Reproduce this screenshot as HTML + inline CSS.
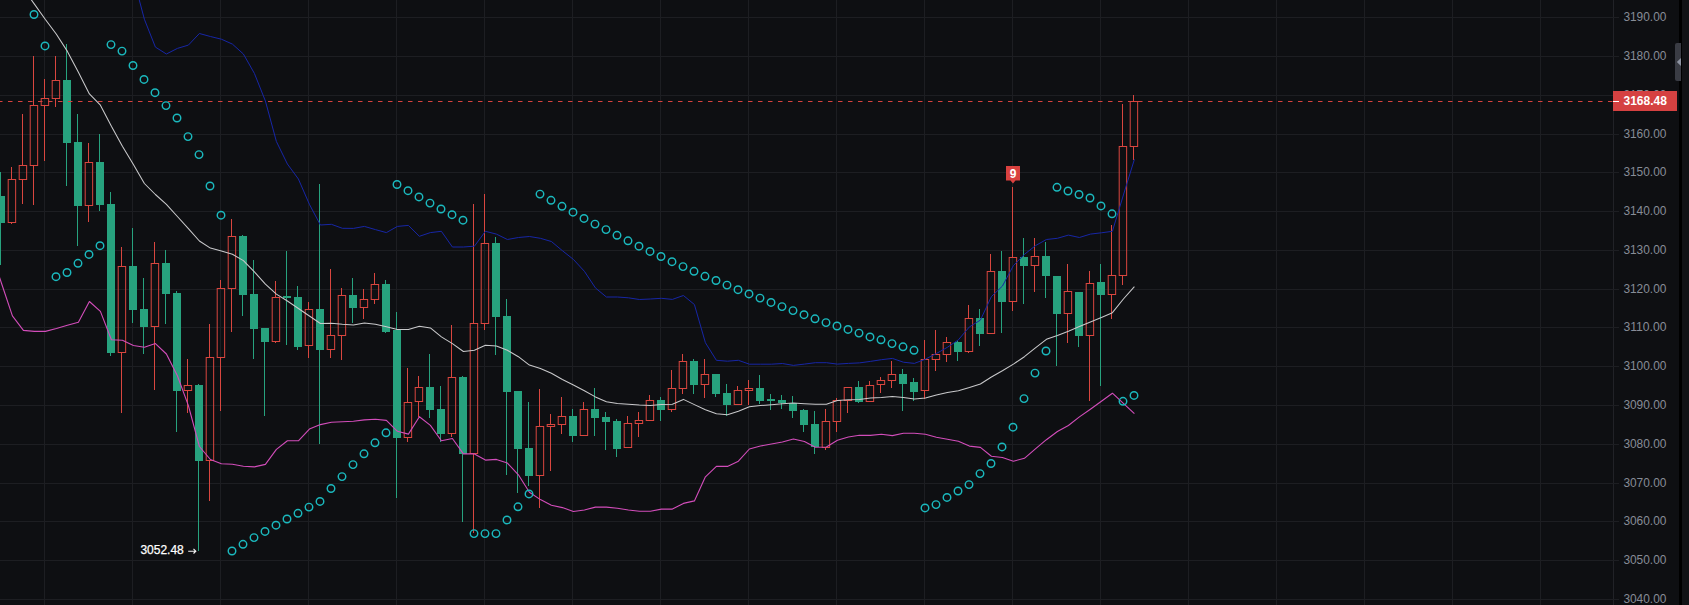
<!DOCTYPE html>
<html><head><meta charset="utf-8"><title>Chart</title>
<style>html,body{margin:0;padding:0;background:#0e0f12;width:1689px;height:605px;overflow:hidden}svg{display:block}</style>
</head><body><svg width="1689" height="605" viewBox="0 0 1689 605"><rect x="0" y="17" width="1619" height="1" fill="#1d1e22"/><rect x="0" y="56" width="1619" height="1" fill="#1d1e22"/><rect x="0" y="95" width="1619" height="1" fill="#1d1e22"/><rect x="0" y="134" width="1619" height="1" fill="#1d1e22"/><rect x="0" y="172" width="1619" height="1" fill="#1d1e22"/><rect x="0" y="211" width="1619" height="1" fill="#1d1e22"/><rect x="0" y="250" width="1619" height="1" fill="#1d1e22"/><rect x="0" y="289" width="1619" height="1" fill="#1d1e22"/><rect x="0" y="327" width="1619" height="1" fill="#1d1e22"/><rect x="0" y="366" width="1619" height="1" fill="#1d1e22"/><rect x="0" y="405" width="1619" height="1" fill="#1d1e22"/><rect x="0" y="444" width="1619" height="1" fill="#1d1e22"/><rect x="0" y="483" width="1619" height="1" fill="#1d1e22"/><rect x="0" y="521" width="1619" height="1" fill="#1d1e22"/><rect x="0" y="560" width="1619" height="1" fill="#1d1e22"/><rect x="0" y="599" width="1619" height="1" fill="#1d1e22"/><rect x="44" y="0" width="1" height="605" fill="#1d1e22"/><rect x="132" y="0" width="1" height="605" fill="#1d1e22"/><rect x="220" y="0" width="1" height="605" fill="#1d1e22"/><rect x="308" y="0" width="1" height="605" fill="#1d1e22"/><rect x="396" y="0" width="1" height="605" fill="#1d1e22"/><rect x="484" y="0" width="1" height="605" fill="#1d1e22"/><rect x="572" y="0" width="1" height="605" fill="#1d1e22"/><rect x="660" y="0" width="1" height="605" fill="#1d1e22"/><rect x="748" y="0" width="1" height="605" fill="#1d1e22"/><rect x="836" y="0" width="1" height="605" fill="#1d1e22"/><rect x="924" y="0" width="1" height="605" fill="#1d1e22"/><rect x="1012" y="0" width="1" height="605" fill="#1d1e22"/><rect x="1100" y="0" width="1" height="605" fill="#1d1e22"/><rect x="1188" y="0" width="1" height="605" fill="#1d1e22"/><rect x="1276" y="0" width="1" height="605" fill="#1d1e22"/><rect x="1364" y="0" width="1" height="605" fill="#1d1e22"/><rect x="1452" y="0" width="1" height="605" fill="#1d1e22"/><rect x="1540" y="0" width="1" height="605" fill="#1d1e22"/><g shape-rendering="crispEdges"><rect x="0" y="172" width="1" height="93" fill="#27a27e"/><rect x="-3" y="196" width="8" height="27" fill="#27a27e"/><rect x="11" y="167" width="1" height="12" fill="#d9463f"/><rect x="11" y="223" width="1" height="1" fill="#d9463f"/><rect x="8" y="179" width="8" height="1" fill="#d9463f"/><rect x="8" y="222" width="8" height="1" fill="#d9463f"/><rect x="22" y="114" width="1" height="51" fill="#d9463f"/><rect x="22" y="180" width="1" height="24" fill="#d9463f"/><rect x="19" y="165" width="8" height="1" fill="#d9463f"/><rect x="19" y="179" width="8" height="1" fill="#d9463f"/><rect x="33" y="56" width="1" height="49" fill="#d9463f"/><rect x="33" y="166" width="1" height="39" fill="#d9463f"/><rect x="30" y="105" width="8" height="1" fill="#d9463f"/><rect x="30" y="165" width="8" height="1" fill="#d9463f"/><rect x="44" y="79" width="1" height="19" fill="#d9463f"/><rect x="44" y="106" width="1" height="55" fill="#d9463f"/><rect x="41" y="98" width="8" height="1" fill="#d9463f"/><rect x="41" y="105" width="8" height="1" fill="#d9463f"/><rect x="55" y="56" width="1" height="24" fill="#d9463f"/><rect x="55" y="99" width="1" height="8" fill="#d9463f"/><rect x="52" y="80" width="8" height="1" fill="#d9463f"/><rect x="52" y="98" width="8" height="1" fill="#d9463f"/><rect x="66" y="44" width="1" height="142" fill="#27a27e"/><rect x="63" y="80" width="8" height="63" fill="#27a27e"/><rect x="77" y="114" width="1" height="132" fill="#27a27e"/><rect x="74" y="142" width="8" height="64" fill="#27a27e"/><rect x="88" y="143" width="1" height="19" fill="#d9463f"/><rect x="88" y="206" width="1" height="16" fill="#d9463f"/><rect x="85" y="162" width="8" height="1" fill="#d9463f"/><rect x="85" y="205" width="8" height="1" fill="#d9463f"/><rect x="99" y="134" width="1" height="77" fill="#27a27e"/><rect x="96" y="162" width="8" height="43" fill="#27a27e"/><rect x="110" y="192" width="1" height="164" fill="#27a27e"/><rect x="107" y="204" width="8" height="149" fill="#27a27e"/><rect x="121" y="247" width="1" height="19" fill="#d9463f"/><rect x="121" y="353" width="1" height="60" fill="#d9463f"/><rect x="118" y="266" width="8" height="1" fill="#d9463f"/><rect x="118" y="352" width="8" height="1" fill="#d9463f"/><rect x="132" y="228" width="1" height="95" fill="#27a27e"/><rect x="129" y="266" width="8" height="44" fill="#27a27e"/><rect x="143" y="278" width="1" height="76" fill="#27a27e"/><rect x="140" y="309" width="8" height="18" fill="#27a27e"/><rect x="154" y="242" width="1" height="21" fill="#d9463f"/><rect x="154" y="327" width="1" height="63" fill="#d9463f"/><rect x="151" y="263" width="8" height="1" fill="#d9463f"/><rect x="151" y="326" width="8" height="1" fill="#d9463f"/><rect x="165" y="250" width="1" height="74" fill="#27a27e"/><rect x="162" y="263" width="8" height="31" fill="#27a27e"/><rect x="176" y="291" width="1" height="141" fill="#27a27e"/><rect x="173" y="293" width="8" height="98" fill="#27a27e"/><rect x="187" y="359" width="1" height="26" fill="#d9463f"/><rect x="187" y="391" width="1" height="22" fill="#d9463f"/><rect x="184" y="385" width="8" height="1" fill="#d9463f"/><rect x="184" y="390" width="8" height="1" fill="#d9463f"/><rect x="198" y="384" width="1" height="167" fill="#27a27e"/><rect x="195" y="385" width="8" height="76" fill="#27a27e"/><rect x="209" y="324" width="1" height="33" fill="#d9463f"/><rect x="209" y="461" width="1" height="40" fill="#d9463f"/><rect x="206" y="357" width="8" height="1" fill="#d9463f"/><rect x="206" y="460" width="8" height="1" fill="#d9463f"/><rect x="220" y="280" width="1" height="8" fill="#d9463f"/><rect x="220" y="358" width="1" height="53" fill="#d9463f"/><rect x="217" y="288" width="8" height="1" fill="#d9463f"/><rect x="217" y="357" width="8" height="1" fill="#d9463f"/><rect x="231" y="219" width="1" height="17" fill="#d9463f"/><rect x="231" y="289" width="1" height="43" fill="#d9463f"/><rect x="228" y="236" width="8" height="1" fill="#d9463f"/><rect x="228" y="288" width="8" height="1" fill="#d9463f"/><rect x="242" y="235" width="1" height="81" fill="#27a27e"/><rect x="239" y="236" width="8" height="59" fill="#27a27e"/><rect x="253" y="260" width="1" height="99" fill="#27a27e"/><rect x="250" y="294" width="8" height="35" fill="#27a27e"/><rect x="264" y="328" width="1" height="88" fill="#27a27e"/><rect x="261" y="328" width="8" height="14" fill="#27a27e"/><rect x="275" y="281" width="1" height="16" fill="#d9463f"/><rect x="275" y="342" width="1" height="1" fill="#d9463f"/><rect x="272" y="297" width="8" height="1" fill="#d9463f"/><rect x="272" y="341" width="8" height="1" fill="#d9463f"/><rect x="286" y="251" width="1" height="94" fill="#27a27e"/><rect x="283" y="296" width="8" height="2" fill="#27a27e"/><rect x="297" y="286" width="1" height="64" fill="#27a27e"/><rect x="294" y="297" width="8" height="50" fill="#27a27e"/><rect x="308" y="302" width="1" height="7" fill="#d9463f"/><rect x="308" y="346" width="1" height="12" fill="#d9463f"/><rect x="305" y="309" width="8" height="1" fill="#d9463f"/><rect x="305" y="345" width="8" height="1" fill="#d9463f"/><rect x="319" y="184" width="1" height="260" fill="#27a27e"/><rect x="316" y="309" width="8" height="41" fill="#27a27e"/><rect x="330" y="269" width="1" height="66" fill="#d9463f"/><rect x="330" y="350" width="1" height="8" fill="#d9463f"/><rect x="327" y="335" width="8" height="1" fill="#d9463f"/><rect x="327" y="349" width="8" height="1" fill="#d9463f"/><rect x="341" y="288" width="1" height="7" fill="#d9463f"/><rect x="341" y="336" width="1" height="24" fill="#d9463f"/><rect x="338" y="295" width="8" height="1" fill="#d9463f"/><rect x="338" y="335" width="8" height="1" fill="#d9463f"/><rect x="352" y="278" width="1" height="45" fill="#27a27e"/><rect x="349" y="295" width="8" height="13" fill="#27a27e"/><rect x="363" y="289" width="1" height="10" fill="#d9463f"/><rect x="363" y="308" width="1" height="11" fill="#d9463f"/><rect x="360" y="299" width="8" height="1" fill="#d9463f"/><rect x="360" y="307" width="8" height="1" fill="#d9463f"/><rect x="374" y="273" width="1" height="11" fill="#d9463f"/><rect x="374" y="300" width="1" height="4" fill="#d9463f"/><rect x="371" y="284" width="8" height="1" fill="#d9463f"/><rect x="371" y="299" width="8" height="1" fill="#d9463f"/><rect x="385" y="280" width="1" height="53" fill="#27a27e"/><rect x="382" y="284" width="8" height="48" fill="#27a27e"/><rect x="396" y="312" width="1" height="186" fill="#27a27e"/><rect x="393" y="330" width="8" height="108" fill="#27a27e"/><rect x="407" y="368" width="1" height="34" fill="#d9463f"/><rect x="407" y="438" width="1" height="4" fill="#d9463f"/><rect x="404" y="402" width="8" height="1" fill="#d9463f"/><rect x="404" y="437" width="8" height="1" fill="#d9463f"/><rect x="418" y="376" width="1" height="11" fill="#d9463f"/><rect x="418" y="402" width="1" height="15" fill="#d9463f"/><rect x="415" y="387" width="8" height="1" fill="#d9463f"/><rect x="415" y="401" width="8" height="1" fill="#d9463f"/><rect x="429" y="354" width="1" height="64" fill="#27a27e"/><rect x="426" y="387" width="8" height="23" fill="#27a27e"/><rect x="440" y="386" width="1" height="56" fill="#27a27e"/><rect x="437" y="409" width="8" height="25" fill="#27a27e"/><rect x="451" y="325" width="1" height="52" fill="#d9463f"/><rect x="451" y="434" width="1" height="3" fill="#d9463f"/><rect x="448" y="377" width="8" height="1" fill="#d9463f"/><rect x="448" y="433" width="8" height="1" fill="#d9463f"/><rect x="462" y="376" width="1" height="146" fill="#27a27e"/><rect x="459" y="377" width="8" height="77" fill="#27a27e"/><rect x="473" y="204" width="1" height="119" fill="#d9463f"/><rect x="473" y="454" width="1" height="79" fill="#d9463f"/><rect x="470" y="323" width="8" height="1" fill="#d9463f"/><rect x="470" y="453" width="8" height="1" fill="#d9463f"/><rect x="484" y="194" width="1" height="49" fill="#d9463f"/><rect x="484" y="324" width="1" height="6" fill="#d9463f"/><rect x="481" y="243" width="8" height="1" fill="#d9463f"/><rect x="481" y="323" width="8" height="1" fill="#d9463f"/><rect x="495" y="237" width="1" height="118" fill="#27a27e"/><rect x="492" y="243" width="8" height="74" fill="#27a27e"/><rect x="506" y="299" width="1" height="176" fill="#27a27e"/><rect x="503" y="316" width="8" height="76" fill="#27a27e"/><rect x="517" y="391" width="1" height="102" fill="#27a27e"/><rect x="514" y="391" width="8" height="58" fill="#27a27e"/><rect x="528" y="402" width="1" height="84" fill="#27a27e"/><rect x="525" y="448" width="8" height="28" fill="#27a27e"/><rect x="539" y="389" width="1" height="37" fill="#d9463f"/><rect x="539" y="476" width="1" height="32" fill="#d9463f"/><rect x="536" y="426" width="8" height="1" fill="#d9463f"/><rect x="536" y="475" width="8" height="1" fill="#d9463f"/><rect x="550" y="414" width="1" height="10" fill="#d9463f"/><rect x="550" y="427" width="1" height="44" fill="#d9463f"/><rect x="547" y="424" width="8" height="1" fill="#d9463f"/><rect x="547" y="426" width="8" height="1" fill="#d9463f"/><rect x="561" y="397" width="1" height="19" fill="#d9463f"/><rect x="561" y="425" width="1" height="9" fill="#d9463f"/><rect x="558" y="416" width="8" height="1" fill="#d9463f"/><rect x="558" y="424" width="8" height="1" fill="#d9463f"/><rect x="572" y="409" width="1" height="33" fill="#27a27e"/><rect x="569" y="416" width="8" height="20" fill="#27a27e"/><rect x="583" y="402" width="1" height="7" fill="#d9463f"/><rect x="580" y="409" width="8" height="1" fill="#d9463f"/><rect x="580" y="435" width="8" height="1" fill="#d9463f"/><rect x="594" y="388" width="1" height="48" fill="#27a27e"/><rect x="591" y="409" width="8" height="9" fill="#27a27e"/><rect x="605" y="412" width="1" height="38" fill="#27a27e"/><rect x="602" y="417" width="8" height="5" fill="#27a27e"/><rect x="616" y="419" width="1" height="38" fill="#27a27e"/><rect x="613" y="421" width="8" height="28" fill="#27a27e"/><rect x="627" y="416" width="1" height="7" fill="#d9463f"/><rect x="624" y="423" width="8" height="1" fill="#d9463f"/><rect x="624" y="447" width="8" height="1" fill="#d9463f"/><rect x="638" y="412" width="1" height="8" fill="#d9463f"/><rect x="638" y="424" width="1" height="13" fill="#d9463f"/><rect x="635" y="420" width="8" height="1" fill="#d9463f"/><rect x="635" y="423" width="8" height="1" fill="#d9463f"/><rect x="649" y="395" width="1" height="5" fill="#d9463f"/><rect x="646" y="400" width="8" height="1" fill="#d9463f"/><rect x="646" y="420" width="8" height="1" fill="#d9463f"/><rect x="660" y="397" width="1" height="24" fill="#27a27e"/><rect x="657" y="400" width="8" height="10" fill="#27a27e"/><rect x="671" y="370" width="1" height="18" fill="#d9463f"/><rect x="671" y="410" width="1" height="2" fill="#d9463f"/><rect x="668" y="388" width="8" height="1" fill="#d9463f"/><rect x="668" y="409" width="8" height="1" fill="#d9463f"/><rect x="682" y="354" width="1" height="7" fill="#d9463f"/><rect x="682" y="389" width="1" height="5" fill="#d9463f"/><rect x="679" y="361" width="8" height="1" fill="#d9463f"/><rect x="679" y="388" width="8" height="1" fill="#d9463f"/><rect x="693" y="359" width="1" height="35" fill="#27a27e"/><rect x="690" y="361" width="8" height="24" fill="#27a27e"/><rect x="704" y="359" width="1" height="15" fill="#d9463f"/><rect x="704" y="385" width="1" height="13" fill="#d9463f"/><rect x="701" y="374" width="8" height="1" fill="#d9463f"/><rect x="701" y="384" width="8" height="1" fill="#d9463f"/><rect x="715" y="374" width="1" height="23" fill="#27a27e"/><rect x="712" y="374" width="8" height="20" fill="#27a27e"/><rect x="726" y="384" width="1" height="32" fill="#27a27e"/><rect x="723" y="393" width="8" height="12" fill="#27a27e"/><rect x="737" y="386" width="1" height="4" fill="#d9463f"/><rect x="734" y="390" width="8" height="1" fill="#d9463f"/><rect x="734" y="404" width="8" height="1" fill="#d9463f"/><rect x="748" y="380" width="1" height="8" fill="#d9463f"/><rect x="748" y="391" width="1" height="14" fill="#d9463f"/><rect x="745" y="388" width="8" height="1" fill="#d9463f"/><rect x="745" y="390" width="8" height="1" fill="#d9463f"/><rect x="759" y="375" width="1" height="29" fill="#27a27e"/><rect x="756" y="388" width="8" height="13" fill="#27a27e"/><rect x="770" y="394" width="1" height="16" fill="#27a27e"/><rect x="767" y="399" width="8" height="2" fill="#27a27e"/><rect x="781" y="395" width="1" height="14" fill="#27a27e"/><rect x="778" y="400" width="8" height="3" fill="#27a27e"/><rect x="792" y="396" width="1" height="22" fill="#27a27e"/><rect x="789" y="403" width="8" height="8" fill="#27a27e"/><rect x="803" y="409" width="1" height="23" fill="#27a27e"/><rect x="800" y="410" width="8" height="15" fill="#27a27e"/><rect x="814" y="411" width="1" height="43" fill="#27a27e"/><rect x="811" y="424" width="8" height="23" fill="#27a27e"/><rect x="825" y="409" width="1" height="12" fill="#d9463f"/><rect x="825" y="448" width="1" height="2" fill="#d9463f"/><rect x="822" y="421" width="8" height="1" fill="#d9463f"/><rect x="822" y="447" width="8" height="1" fill="#d9463f"/><rect x="836" y="398" width="1" height="2" fill="#d9463f"/><rect x="836" y="422" width="1" height="10" fill="#d9463f"/><rect x="833" y="400" width="8" height="1" fill="#d9463f"/><rect x="833" y="421" width="8" height="1" fill="#d9463f"/><rect x="847" y="401" width="1" height="12" fill="#d9463f"/><rect x="844" y="387" width="8" height="1" fill="#d9463f"/><rect x="844" y="400" width="8" height="1" fill="#d9463f"/><rect x="858" y="381" width="1" height="22" fill="#27a27e"/><rect x="855" y="387" width="8" height="15" fill="#27a27e"/><rect x="869" y="381" width="1" height="4" fill="#d9463f"/><rect x="866" y="385" width="8" height="1" fill="#d9463f"/><rect x="866" y="401" width="8" height="1" fill="#d9463f"/><rect x="880" y="377" width="1" height="3" fill="#d9463f"/><rect x="880" y="385" width="1" height="8" fill="#d9463f"/><rect x="877" y="380" width="8" height="1" fill="#d9463f"/><rect x="877" y="384" width="8" height="1" fill="#d9463f"/><rect x="891" y="361" width="1" height="13" fill="#d9463f"/><rect x="891" y="381" width="1" height="7" fill="#d9463f"/><rect x="888" y="374" width="8" height="1" fill="#d9463f"/><rect x="888" y="380" width="8" height="1" fill="#d9463f"/><rect x="902" y="369" width="1" height="42" fill="#27a27e"/><rect x="899" y="374" width="8" height="10" fill="#27a27e"/><rect x="913" y="378" width="1" height="23" fill="#27a27e"/><rect x="910" y="382" width="8" height="10" fill="#27a27e"/><rect x="924" y="340" width="1" height="19" fill="#d9463f"/><rect x="924" y="391" width="1" height="8" fill="#d9463f"/><rect x="921" y="359" width="8" height="1" fill="#d9463f"/><rect x="921" y="390" width="8" height="1" fill="#d9463f"/><rect x="935" y="330" width="1" height="24" fill="#d9463f"/><rect x="935" y="360" width="1" height="11" fill="#d9463f"/><rect x="932" y="354" width="8" height="1" fill="#d9463f"/><rect x="932" y="359" width="8" height="1" fill="#d9463f"/><rect x="946" y="337" width="1" height="5" fill="#d9463f"/><rect x="946" y="355" width="1" height="7" fill="#d9463f"/><rect x="943" y="342" width="8" height="1" fill="#d9463f"/><rect x="943" y="354" width="8" height="1" fill="#d9463f"/><rect x="957" y="341" width="1" height="20" fill="#27a27e"/><rect x="954" y="342" width="8" height="10" fill="#27a27e"/><rect x="968" y="305" width="1" height="13" fill="#d9463f"/><rect x="968" y="352" width="1" height="1" fill="#d9463f"/><rect x="965" y="318" width="8" height="1" fill="#d9463f"/><rect x="965" y="351" width="8" height="1" fill="#d9463f"/><rect x="979" y="309" width="1" height="37" fill="#27a27e"/><rect x="976" y="318" width="8" height="16" fill="#27a27e"/><rect x="990" y="254" width="1" height="17" fill="#d9463f"/><rect x="987" y="271" width="8" height="1" fill="#d9463f"/><rect x="987" y="333" width="8" height="1" fill="#d9463f"/><rect x="1001" y="251" width="1" height="82" fill="#27a27e"/><rect x="998" y="271" width="8" height="31" fill="#27a27e"/><rect x="1012" y="187" width="1" height="70" fill="#d9463f"/><rect x="1012" y="302" width="1" height="9" fill="#d9463f"/><rect x="1009" y="257" width="8" height="1" fill="#d9463f"/><rect x="1009" y="301" width="8" height="1" fill="#d9463f"/><rect x="1023" y="238" width="1" height="66" fill="#27a27e"/><rect x="1020" y="257" width="8" height="9" fill="#27a27e"/><rect x="1034" y="238" width="1" height="18" fill="#d9463f"/><rect x="1034" y="266" width="1" height="26" fill="#d9463f"/><rect x="1031" y="256" width="8" height="1" fill="#d9463f"/><rect x="1031" y="265" width="8" height="1" fill="#d9463f"/><rect x="1045" y="242" width="1" height="56" fill="#27a27e"/><rect x="1042" y="256" width="8" height="20" fill="#27a27e"/><rect x="1056" y="276" width="1" height="90" fill="#27a27e"/><rect x="1053" y="276" width="8" height="38" fill="#27a27e"/><rect x="1067" y="264" width="1" height="27" fill="#d9463f"/><rect x="1067" y="314" width="1" height="29" fill="#d9463f"/><rect x="1064" y="291" width="8" height="1" fill="#d9463f"/><rect x="1064" y="313" width="8" height="1" fill="#d9463f"/><rect x="1078" y="292" width="1" height="55" fill="#27a27e"/><rect x="1075" y="292" width="8" height="44" fill="#27a27e"/><rect x="1089" y="271" width="1" height="12" fill="#d9463f"/><rect x="1089" y="336" width="1" height="65" fill="#d9463f"/><rect x="1086" y="283" width="8" height="1" fill="#d9463f"/><rect x="1086" y="335" width="8" height="1" fill="#d9463f"/><rect x="1100" y="264" width="1" height="122" fill="#27a27e"/><rect x="1097" y="282" width="8" height="13" fill="#27a27e"/><rect x="1111" y="225" width="1" height="50" fill="#d9463f"/><rect x="1111" y="295" width="1" height="24" fill="#d9463f"/><rect x="1108" y="275" width="8" height="1" fill="#d9463f"/><rect x="1108" y="294" width="8" height="1" fill="#d9463f"/><rect x="1122" y="104" width="1" height="42" fill="#d9463f"/><rect x="1122" y="276" width="1" height="9" fill="#d9463f"/><rect x="1119" y="146" width="8" height="1" fill="#d9463f"/><rect x="1119" y="275" width="8" height="1" fill="#d9463f"/><rect x="1133" y="95" width="1" height="6" fill="#d9463f"/><rect x="1133" y="147" width="1" height="13" fill="#d9463f"/><rect x="1130" y="101" width="8" height="1" fill="#d9463f"/><rect x="1130" y="146" width="8" height="1" fill="#d9463f"/></g><g><rect x="7.7" y="179" width="1" height="44" fill="#d9463f"/><rect x="15.15" y="179" width="1" height="44" fill="#d9463f"/><rect x="18.7" y="165" width="1" height="15" fill="#d9463f"/><rect x="26.15" y="165" width="1" height="15" fill="#d9463f"/><rect x="29.7" y="105" width="1" height="61" fill="#d9463f"/><rect x="37.15" y="105" width="1" height="61" fill="#d9463f"/><rect x="40.7" y="98" width="1" height="8" fill="#d9463f"/><rect x="48.15" y="98" width="1" height="8" fill="#d9463f"/><rect x="51.7" y="80" width="1" height="19" fill="#d9463f"/><rect x="59.15" y="80" width="1" height="19" fill="#d9463f"/><rect x="84.7" y="162" width="1" height="44" fill="#d9463f"/><rect x="92.15" y="162" width="1" height="44" fill="#d9463f"/><rect x="117.7" y="266" width="1" height="87" fill="#d9463f"/><rect x="125.15" y="266" width="1" height="87" fill="#d9463f"/><rect x="150.7" y="263" width="1" height="64" fill="#d9463f"/><rect x="158.15" y="263" width="1" height="64" fill="#d9463f"/><rect x="183.7" y="385" width="1" height="6" fill="#d9463f"/><rect x="191.15" y="385" width="1" height="6" fill="#d9463f"/><rect x="205.7" y="357" width="1" height="104" fill="#d9463f"/><rect x="213.15" y="357" width="1" height="104" fill="#d9463f"/><rect x="216.7" y="288" width="1" height="70" fill="#d9463f"/><rect x="224.15" y="288" width="1" height="70" fill="#d9463f"/><rect x="227.7" y="236" width="1" height="53" fill="#d9463f"/><rect x="235.15" y="236" width="1" height="53" fill="#d9463f"/><rect x="271.7" y="297" width="1" height="45" fill="#d9463f"/><rect x="279.15" y="297" width="1" height="45" fill="#d9463f"/><rect x="304.7" y="309" width="1" height="37" fill="#d9463f"/><rect x="312.15" y="309" width="1" height="37" fill="#d9463f"/><rect x="326.7" y="335" width="1" height="15" fill="#d9463f"/><rect x="334.15" y="335" width="1" height="15" fill="#d9463f"/><rect x="337.7" y="295" width="1" height="41" fill="#d9463f"/><rect x="345.15" y="295" width="1" height="41" fill="#d9463f"/><rect x="359.7" y="299" width="1" height="9" fill="#d9463f"/><rect x="367.15" y="299" width="1" height="9" fill="#d9463f"/><rect x="370.7" y="284" width="1" height="16" fill="#d9463f"/><rect x="378.15" y="284" width="1" height="16" fill="#d9463f"/><rect x="403.7" y="402" width="1" height="36" fill="#d9463f"/><rect x="411.15" y="402" width="1" height="36" fill="#d9463f"/><rect x="414.7" y="387" width="1" height="15" fill="#d9463f"/><rect x="422.15" y="387" width="1" height="15" fill="#d9463f"/><rect x="447.7" y="377" width="1" height="57" fill="#d9463f"/><rect x="455.15" y="377" width="1" height="57" fill="#d9463f"/><rect x="469.7" y="323" width="1" height="131" fill="#d9463f"/><rect x="477.15" y="323" width="1" height="131" fill="#d9463f"/><rect x="480.7" y="243" width="1" height="81" fill="#d9463f"/><rect x="488.15" y="243" width="1" height="81" fill="#d9463f"/><rect x="535.7" y="426" width="1" height="50" fill="#d9463f"/><rect x="543.15" y="426" width="1" height="50" fill="#d9463f"/><rect x="546.7" y="424" width="1" height="3" fill="#d9463f"/><rect x="554.15" y="424" width="1" height="3" fill="#d9463f"/><rect x="557.7" y="416" width="1" height="9" fill="#d9463f"/><rect x="565.15" y="416" width="1" height="9" fill="#d9463f"/><rect x="579.7" y="409" width="1" height="27" fill="#d9463f"/><rect x="587.15" y="409" width="1" height="27" fill="#d9463f"/><rect x="623.7" y="423" width="1" height="25" fill="#d9463f"/><rect x="631.15" y="423" width="1" height="25" fill="#d9463f"/><rect x="634.7" y="420" width="1" height="4" fill="#d9463f"/><rect x="642.15" y="420" width="1" height="4" fill="#d9463f"/><rect x="645.7" y="400" width="1" height="21" fill="#d9463f"/><rect x="653.15" y="400" width="1" height="21" fill="#d9463f"/><rect x="667.7" y="388" width="1" height="22" fill="#d9463f"/><rect x="675.15" y="388" width="1" height="22" fill="#d9463f"/><rect x="678.7" y="361" width="1" height="28" fill="#d9463f"/><rect x="686.15" y="361" width="1" height="28" fill="#d9463f"/><rect x="700.7" y="374" width="1" height="11" fill="#d9463f"/><rect x="708.15" y="374" width="1" height="11" fill="#d9463f"/><rect x="733.7" y="390" width="1" height="15" fill="#d9463f"/><rect x="741.15" y="390" width="1" height="15" fill="#d9463f"/><rect x="744.7" y="388" width="1" height="3" fill="#d9463f"/><rect x="752.15" y="388" width="1" height="3" fill="#d9463f"/><rect x="821.7" y="421" width="1" height="27" fill="#d9463f"/><rect x="829.15" y="421" width="1" height="27" fill="#d9463f"/><rect x="832.7" y="400" width="1" height="22" fill="#d9463f"/><rect x="840.15" y="400" width="1" height="22" fill="#d9463f"/><rect x="843.7" y="387" width="1" height="14" fill="#d9463f"/><rect x="851.15" y="387" width="1" height="14" fill="#d9463f"/><rect x="865.7" y="385" width="1" height="17" fill="#d9463f"/><rect x="873.15" y="385" width="1" height="17" fill="#d9463f"/><rect x="876.7" y="380" width="1" height="5" fill="#d9463f"/><rect x="884.15" y="380" width="1" height="5" fill="#d9463f"/><rect x="887.7" y="374" width="1" height="7" fill="#d9463f"/><rect x="895.15" y="374" width="1" height="7" fill="#d9463f"/><rect x="920.7" y="359" width="1" height="32" fill="#d9463f"/><rect x="928.15" y="359" width="1" height="32" fill="#d9463f"/><rect x="931.7" y="354" width="1" height="6" fill="#d9463f"/><rect x="939.15" y="354" width="1" height="6" fill="#d9463f"/><rect x="942.7" y="342" width="1" height="13" fill="#d9463f"/><rect x="950.15" y="342" width="1" height="13" fill="#d9463f"/><rect x="964.7" y="318" width="1" height="34" fill="#d9463f"/><rect x="972.15" y="318" width="1" height="34" fill="#d9463f"/><rect x="986.7" y="271" width="1" height="63" fill="#d9463f"/><rect x="994.15" y="271" width="1" height="63" fill="#d9463f"/><rect x="1008.7" y="257" width="1" height="45" fill="#d9463f"/><rect x="1016.15" y="257" width="1" height="45" fill="#d9463f"/><rect x="1030.7" y="256" width="1" height="10" fill="#d9463f"/><rect x="1038.15" y="256" width="1" height="10" fill="#d9463f"/><rect x="1063.7" y="291" width="1" height="23" fill="#d9463f"/><rect x="1071.15" y="291" width="1" height="23" fill="#d9463f"/><rect x="1085.7" y="283" width="1" height="53" fill="#d9463f"/><rect x="1093.15" y="283" width="1" height="53" fill="#d9463f"/><rect x="1107.7" y="275" width="1" height="20" fill="#d9463f"/><rect x="1115.15" y="275" width="1" height="20" fill="#d9463f"/><rect x="1118.7" y="146" width="1" height="130" fill="#d9463f"/><rect x="1126.15" y="146" width="1" height="130" fill="#d9463f"/><rect x="1129.7" y="101" width="1" height="46" fill="#d9463f"/><rect x="1137.15" y="101" width="1" height="46" fill="#d9463f"/></g><polyline points="133.4,-22.0 144.4,19.3 155.4,47.1 166.4,54.0 177.4,48.4 188.4,45.1 199.4,33.5 210.4,36.5 221.4,39.2 232.4,44.1 243.4,54.0 254.4,73.4 265.4,101.0 276.4,141.5 287.4,164.0 298.4,179.0 309.4,204.3 320.4,225.0 331.4,224.3 342.4,228.3 353.4,228.4 364.4,226.4 375.4,229.6 386.4,232.6 397.4,226.4 408.4,225.4 419.4,236.3 430.4,232.6 441.4,231.3 452.4,247.0 463.4,247.0 474.4,246.2 485.4,231.3 496.4,234.1 507.4,239.5 518.4,237.5 529.4,236.5 540.4,238.3 551.4,241.5 562.4,250.7 573.4,259.4 584.4,271.3 595.4,287.9 606.4,297.0 617.4,297.0 628.4,297.8 639.4,299.5 650.4,299.0 661.4,298.3 672.4,299.4 683.4,295.5 694.4,304.5 705.4,342.7 716.4,360.3 727.4,361.2 738.4,360.3 749.4,364.2 760.4,364.2 771.4,364.2 782.4,363.5 793.4,365.4 804.4,364.1 815.4,362.7 826.4,362.7 837.4,364.1 848.4,363.4 859.4,362.9 870.4,361.4 881.4,359.7 892.4,358.4 903.4,362.2 914.4,363.4 925.4,359.2 936.4,353.5 947.4,347.3 958.4,339.8 969.4,326.9 980.4,320.1 991.4,296.6 1002.4,286.1 1013.4,265.6 1024.4,254.4 1035.4,245.7 1046.4,239.5 1057.4,238.3 1068.4,235.1 1079.4,237.5 1090.4,234.1 1101.4,232.8 1112.4,231.3 1123.4,195.0 1134.4,159.3" fill="none" stroke="#1726a6" stroke-width="1.0" stroke-linejoin="round"/><polyline points="1.4,-42.0 12.4,-27.0 23.4,-11.3 34.4,4.1 45.4,19.5 56.4,34.2 67.4,51.4 78.4,72.2 89.4,93.9 100.4,105.2 111.4,126.3 122.4,146.2 133.4,164.6 144.4,183.5 155.4,194.5 166.4,204.3 177.4,216.5 188.4,228.7 199.4,241.0 210.4,248.1 221.4,251.0 232.4,254.2 243.4,260.6 254.4,271.8 265.4,284.2 276.4,294.1 287.4,301.0 298.4,308.5 309.4,316.0 320.4,323.5 331.4,323.3 342.4,324.3 353.4,325.0 364.4,323.1 375.4,324.3 386.4,326.8 397.4,329.4 408.4,329.4 419.4,326.2 430.4,327.9 441.4,336.9 452.4,343.6 463.4,351.5 474.4,350.3 485.4,345.3 496.4,346.0 507.4,350.3 518.4,356.7 529.4,365.1 540.4,368.4 551.4,373.3 562.4,379.5 573.4,385.0 584.4,390.7 595.4,396.9 606.4,401.8 617.4,403.6 628.4,404.3 639.4,405.1 650.4,405.6 661.4,404.6 672.4,404.3 683.4,399.4 694.4,404.6 705.4,409.8 716.4,413.7 727.4,414.7 738.4,411.3 749.4,406.8 760.4,405.6 771.4,404.8 782.4,403.8 793.4,403.1 804.4,403.8 815.4,404.3 826.4,404.3 837.4,400.6 848.4,399.8 859.4,399.4 870.4,398.1 881.4,397.4 892.4,396.4 903.4,397.4 914.4,398.9 925.4,398.1 936.4,394.9 947.4,392.4 958.4,390.7 969.4,387.5 980.4,384.0 991.4,377.0 1002.4,370.8 1013.4,364.1 1024.4,356.7 1035.4,347.8 1046.4,339.3 1057.4,335.4 1068.4,331.2 1079.4,326.6 1090.4,321.9 1101.4,317.6 1112.4,312.7 1123.4,299.0 1134.4,286.6" fill="none" stroke="#c9c9cb" stroke-width="1.05" stroke-linejoin="round"/><polyline points="-9.6,250.0 1.4,283.0 12.4,315.9 23.4,330.4 34.4,331.4 45.4,331.4 56.4,328.5 67.4,325.3 78.4,322.3 89.4,301.5 100.4,311.4 111.4,339.8 122.4,340.3 133.4,345.5 144.4,347.3 155.4,343.6 166.4,354.0 177.4,375.8 188.4,405.6 199.4,446.5 210.4,459.5 221.4,463.7 232.4,464.2 243.4,466.2 254.4,466.9 265.4,464.4 276.4,449.4 287.4,440.8 298.4,440.8 309.4,429.1 320.4,424.6 331.4,422.2 342.4,421.7 353.4,421.2 364.4,419.9 375.4,419.2 386.4,420.4 397.4,431.3 408.4,434.1 419.4,416.7 430.4,425.4 441.4,440.8 452.4,438.5 463.4,453.9 474.4,453.9 485.4,460.1 496.4,459.4 507.4,463.1 518.4,474.8 529.4,492.2 540.4,499.6 551.4,505.3 562.4,507.6 573.4,511.5 584.4,510.0 595.4,507.1 606.4,507.1 617.4,508.3 628.4,510.0 639.4,511.3 650.4,511.3 661.4,509.1 672.4,509.1 683.4,503.4 694.4,500.9 705.4,476.8 716.4,466.4 727.4,466.4 738.4,461.2 749.4,449.0 760.4,446.0 771.4,444.0 782.4,442.0 793.4,439.0 804.4,441.5 815.4,447.2 826.4,447.0 837.4,440.3 848.4,437.0 859.4,435.3 870.4,435.4 881.4,434.2 892.4,435.6 903.4,433.2 914.4,433.2 925.4,434.2 936.4,437.2 947.4,439.2 958.4,441.2 969.4,446.1 980.4,447.4 991.4,456.3 1002.4,457.5 1013.4,461.2 1024.4,458.3 1035.4,448.8 1046.4,439.7 1057.4,431.5 1068.4,425.5 1079.4,416.9 1090.4,409.2 1101.4,401.2 1112.4,393.2 1123.4,403.4 1134.4,413.6" fill="none" stroke="#d24dba" stroke-width="1.1" stroke-linejoin="round"/><g><circle cx="34.0" cy="14.5" r="3.75" fill="none" stroke="#1bb9be" stroke-width="1.45"/><circle cx="45.0" cy="45.9" r="3.75" fill="none" stroke="#1bb9be" stroke-width="1.45"/><circle cx="56.0" cy="276.7" r="3.75" fill="none" stroke="#1bb9be" stroke-width="1.45"/><circle cx="67.0" cy="272.5" r="3.75" fill="none" stroke="#1bb9be" stroke-width="1.45"/><circle cx="78.0" cy="263.3" r="3.75" fill="none" stroke="#1bb9be" stroke-width="1.45"/><circle cx="89.0" cy="254.4" r="3.75" fill="none" stroke="#1bb9be" stroke-width="1.45"/><circle cx="100.0" cy="245.7" r="3.75" fill="none" stroke="#1bb9be" stroke-width="1.45"/><circle cx="111.0" cy="44.6" r="3.75" fill="none" stroke="#1bb9be" stroke-width="1.45"/><circle cx="122.0" cy="51.1" r="3.75" fill="none" stroke="#1bb9be" stroke-width="1.45"/><circle cx="133.0" cy="65.5" r="3.75" fill="none" stroke="#1bb9be" stroke-width="1.45"/><circle cx="144.0" cy="79.4" r="3.75" fill="none" stroke="#1bb9be" stroke-width="1.45"/><circle cx="155.0" cy="92.7" r="3.75" fill="none" stroke="#1bb9be" stroke-width="1.45"/><circle cx="166.0" cy="105.6" r="3.75" fill="none" stroke="#1bb9be" stroke-width="1.45"/><circle cx="177.0" cy="118.0" r="3.75" fill="none" stroke="#1bb9be" stroke-width="1.45"/><circle cx="188.0" cy="136.6" r="3.75" fill="none" stroke="#1bb9be" stroke-width="1.45"/><circle cx="199.0" cy="154.6" r="3.75" fill="none" stroke="#1bb9be" stroke-width="1.45"/><circle cx="210.0" cy="186.0" r="3.75" fill="none" stroke="#1bb9be" stroke-width="1.45"/><circle cx="221.0" cy="215.2" r="3.75" fill="none" stroke="#1bb9be" stroke-width="1.45"/><circle cx="232.0" cy="551.0" r="3.75" fill="none" stroke="#1bb9be" stroke-width="1.45"/><circle cx="243.0" cy="544.3" r="3.75" fill="none" stroke="#1bb9be" stroke-width="1.45"/><circle cx="254.0" cy="537.6" r="3.75" fill="none" stroke="#1bb9be" stroke-width="1.45"/><circle cx="265.0" cy="531.4" r="3.75" fill="none" stroke="#1bb9be" stroke-width="1.45"/><circle cx="276.0" cy="525.2" r="3.75" fill="none" stroke="#1bb9be" stroke-width="1.45"/><circle cx="287.0" cy="519.0" r="3.75" fill="none" stroke="#1bb9be" stroke-width="1.45"/><circle cx="298.0" cy="513.3" r="3.75" fill="none" stroke="#1bb9be" stroke-width="1.45"/><circle cx="309.0" cy="507.1" r="3.75" fill="none" stroke="#1bb9be" stroke-width="1.45"/><circle cx="320.0" cy="501.4" r="3.75" fill="none" stroke="#1bb9be" stroke-width="1.45"/><circle cx="331.0" cy="488.5" r="3.75" fill="none" stroke="#1bb9be" stroke-width="1.45"/><circle cx="342.0" cy="476.6" r="3.75" fill="none" stroke="#1bb9be" stroke-width="1.45"/><circle cx="353.0" cy="464.6" r="3.75" fill="none" stroke="#1bb9be" stroke-width="1.45"/><circle cx="364.0" cy="453.8" r="3.75" fill="none" stroke="#1bb9be" stroke-width="1.45"/><circle cx="375.0" cy="442.8" r="3.75" fill="none" stroke="#1bb9be" stroke-width="1.45"/><circle cx="386.0" cy="432.8" r="3.75" fill="none" stroke="#1bb9be" stroke-width="1.45"/><circle cx="397.0" cy="184.5" r="3.75" fill="none" stroke="#1bb9be" stroke-width="1.45"/><circle cx="408.0" cy="190.7" r="3.75" fill="none" stroke="#1bb9be" stroke-width="1.45"/><circle cx="419.0" cy="196.9" r="3.75" fill="none" stroke="#1bb9be" stroke-width="1.45"/><circle cx="430.0" cy="203.1" r="3.75" fill="none" stroke="#1bb9be" stroke-width="1.45"/><circle cx="441.0" cy="209.0" r="3.75" fill="none" stroke="#1bb9be" stroke-width="1.45"/><circle cx="452.0" cy="214.7" r="3.75" fill="none" stroke="#1bb9be" stroke-width="1.45"/><circle cx="463.0" cy="220.2" r="3.75" fill="none" stroke="#1bb9be" stroke-width="1.45"/><circle cx="474.0" cy="533.6" r="3.75" fill="none" stroke="#1bb9be" stroke-width="1.45"/><circle cx="485.0" cy="533.6" r="3.75" fill="none" stroke="#1bb9be" stroke-width="1.45"/><circle cx="496.0" cy="533.6" r="3.75" fill="none" stroke="#1bb9be" stroke-width="1.45"/><circle cx="507.0" cy="520.0" r="3.75" fill="none" stroke="#1bb9be" stroke-width="1.45"/><circle cx="518.0" cy="506.8" r="3.75" fill="none" stroke="#1bb9be" stroke-width="1.45"/><circle cx="529.0" cy="493.9" r="3.75" fill="none" stroke="#1bb9be" stroke-width="1.45"/><circle cx="540.0" cy="194.1" r="3.75" fill="none" stroke="#1bb9be" stroke-width="1.45"/><circle cx="551.0" cy="200.3" r="3.75" fill="none" stroke="#1bb9be" stroke-width="1.45"/><circle cx="562.0" cy="206.3" r="3.75" fill="none" stroke="#1bb9be" stroke-width="1.45"/><circle cx="573.0" cy="212.2" r="3.75" fill="none" stroke="#1bb9be" stroke-width="1.45"/><circle cx="584.0" cy="218.4" r="3.75" fill="none" stroke="#1bb9be" stroke-width="1.45"/><circle cx="595.0" cy="224.1" r="3.75" fill="none" stroke="#1bb9be" stroke-width="1.45"/><circle cx="606.0" cy="229.6" r="3.75" fill="none" stroke="#1bb9be" stroke-width="1.45"/><circle cx="617.0" cy="235.3" r="3.75" fill="none" stroke="#1bb9be" stroke-width="1.45"/><circle cx="628.0" cy="240.8" r="3.75" fill="none" stroke="#1bb9be" stroke-width="1.45"/><circle cx="639.0" cy="246.2" r="3.75" fill="none" stroke="#1bb9be" stroke-width="1.45"/><circle cx="650.0" cy="251.4" r="3.75" fill="none" stroke="#1bb9be" stroke-width="1.45"/><circle cx="661.0" cy="256.5" r="3.75" fill="none" stroke="#1bb9be" stroke-width="1.45"/><circle cx="672.0" cy="261.7" r="3.75" fill="none" stroke="#1bb9be" stroke-width="1.45"/><circle cx="683.0" cy="266.6" r="3.75" fill="none" stroke="#1bb9be" stroke-width="1.45"/><circle cx="694.0" cy="271.3" r="3.75" fill="none" stroke="#1bb9be" stroke-width="1.45"/><circle cx="705.0" cy="276.3" r="3.75" fill="none" stroke="#1bb9be" stroke-width="1.45"/><circle cx="716.0" cy="280.5" r="3.75" fill="none" stroke="#1bb9be" stroke-width="1.45"/><circle cx="727.0" cy="285.1" r="3.75" fill="none" stroke="#1bb9be" stroke-width="1.45"/><circle cx="738.0" cy="289.7" r="3.75" fill="none" stroke="#1bb9be" stroke-width="1.45"/><circle cx="749.0" cy="293.9" r="3.75" fill="none" stroke="#1bb9be" stroke-width="1.45"/><circle cx="760.0" cy="298.1" r="3.75" fill="none" stroke="#1bb9be" stroke-width="1.45"/><circle cx="771.0" cy="302.4" r="3.75" fill="none" stroke="#1bb9be" stroke-width="1.45"/><circle cx="782.0" cy="306.6" r="3.75" fill="none" stroke="#1bb9be" stroke-width="1.45"/><circle cx="793.0" cy="310.6" r="3.75" fill="none" stroke="#1bb9be" stroke-width="1.45"/><circle cx="804.0" cy="314.7" r="3.75" fill="none" stroke="#1bb9be" stroke-width="1.45"/><circle cx="815.0" cy="318.8" r="3.75" fill="none" stroke="#1bb9be" stroke-width="1.45"/><circle cx="826.0" cy="322.6" r="3.75" fill="none" stroke="#1bb9be" stroke-width="1.45"/><circle cx="837.0" cy="326.0" r="3.75" fill="none" stroke="#1bb9be" stroke-width="1.45"/><circle cx="848.0" cy="329.4" r="3.75" fill="none" stroke="#1bb9be" stroke-width="1.45"/><circle cx="859.0" cy="333.1" r="3.75" fill="none" stroke="#1bb9be" stroke-width="1.45"/><circle cx="870.0" cy="336.9" r="3.75" fill="none" stroke="#1bb9be" stroke-width="1.45"/><circle cx="881.0" cy="339.8" r="3.75" fill="none" stroke="#1bb9be" stroke-width="1.45"/><circle cx="892.0" cy="343.6" r="3.75" fill="none" stroke="#1bb9be" stroke-width="1.45"/><circle cx="903.0" cy="346.8" r="3.75" fill="none" stroke="#1bb9be" stroke-width="1.45"/><circle cx="914.0" cy="350.3" r="3.75" fill="none" stroke="#1bb9be" stroke-width="1.45"/><circle cx="925.0" cy="507.9" r="3.75" fill="none" stroke="#1bb9be" stroke-width="1.45"/><circle cx="936.0" cy="504.6" r="3.75" fill="none" stroke="#1bb9be" stroke-width="1.45"/><circle cx="947.0" cy="497.4" r="3.75" fill="none" stroke="#1bb9be" stroke-width="1.45"/><circle cx="958.0" cy="491.0" r="3.75" fill="none" stroke="#1bb9be" stroke-width="1.45"/><circle cx="969.0" cy="484.6" r="3.75" fill="none" stroke="#1bb9be" stroke-width="1.45"/><circle cx="980.0" cy="473.6" r="3.75" fill="none" stroke="#1bb9be" stroke-width="1.45"/><circle cx="991.0" cy="463.5" r="3.75" fill="none" stroke="#1bb9be" stroke-width="1.45"/><circle cx="1002.0" cy="446.9" r="3.75" fill="none" stroke="#1bb9be" stroke-width="1.45"/><circle cx="1013.0" cy="427.2" r="3.75" fill="none" stroke="#1bb9be" stroke-width="1.45"/><circle cx="1024.0" cy="398.6" r="3.75" fill="none" stroke="#1bb9be" stroke-width="1.45"/><circle cx="1035.0" cy="373.1" r="3.75" fill="none" stroke="#1bb9be" stroke-width="1.45"/><circle cx="1046.0" cy="351.0" r="3.75" fill="none" stroke="#1bb9be" stroke-width="1.45"/><circle cx="1057.0" cy="187.3" r="3.75" fill="none" stroke="#1bb9be" stroke-width="1.45"/><circle cx="1068.0" cy="191.0" r="3.75" fill="none" stroke="#1bb9be" stroke-width="1.45"/><circle cx="1079.0" cy="194.5" r="3.75" fill="none" stroke="#1bb9be" stroke-width="1.45"/><circle cx="1090.0" cy="198.0" r="3.75" fill="none" stroke="#1bb9be" stroke-width="1.45"/><circle cx="1101.0" cy="205.9" r="3.75" fill="none" stroke="#1bb9be" stroke-width="1.45"/><circle cx="1112.0" cy="213.8" r="3.75" fill="none" stroke="#1bb9be" stroke-width="1.45"/><circle cx="1123.0" cy="401.3" r="3.75" fill="none" stroke="#1bb9be" stroke-width="1.45"/><circle cx="1134.0" cy="395.4" r="3.75" fill="none" stroke="#1bb9be" stroke-width="1.45"/></g><line x1="0" y1="101.5" x2="1613" y2="101.5" stroke="#d9423f" stroke-width="1" stroke-dasharray="4.5 5.5" stroke-dashoffset="2"/><path d="M1006 166 H1020 V180.5 H1015.5 L1013 183.5 L1010.5 180.5 H1006 Z" fill="#d9413f"/><text x="1013" y="178" font-family="Liberation Sans, Arial, sans-serif" font-size="12" font-weight="bold" fill="#fff" text-anchor="middle">9</text><text x="140.4" y="554.2" font-family="Liberation Sans, Arial, sans-serif" font-size="12" fill="#ffffff" stroke="#ffffff" stroke-width="0.25">3052.48</text><path d="M188.2 551.2 H195.8 M193.5 548.9 L195.8 551.2 L193.5 553.5" fill="none" stroke="#f2f2f2" stroke-width="1.15"/><rect x="1613" y="0" width="1" height="605" fill="#212227"/><rect x="1614" y="0" width="65" height="605" fill="#0e0f12"/><rect x="1613" y="17" width="6" height="1" fill="#1d1e22"/><text x="1623.4" y="21.0" font-family="Liberation Sans, Arial, sans-serif" font-size="12.6" textLength="43" lengthAdjust="spacingAndGlyphs" fill="#878c97">3190.00</text><rect x="1613" y="56" width="6" height="1" fill="#1d1e22"/><text x="1623.4" y="60.0" font-family="Liberation Sans, Arial, sans-serif" font-size="12.6" textLength="43" lengthAdjust="spacingAndGlyphs" fill="#878c97">3180.00</text><rect x="1613" y="95" width="6" height="1" fill="#1d1e22"/><text x="1623.4" y="99.0" font-family="Liberation Sans, Arial, sans-serif" font-size="12.6" textLength="43" lengthAdjust="spacingAndGlyphs" fill="#878c97">3170.00</text><rect x="1613" y="134" width="6" height="1" fill="#1d1e22"/><text x="1623.4" y="138.0" font-family="Liberation Sans, Arial, sans-serif" font-size="12.6" textLength="43" lengthAdjust="spacingAndGlyphs" fill="#878c97">3160.00</text><rect x="1613" y="172" width="6" height="1" fill="#1d1e22"/><text x="1623.4" y="176.0" font-family="Liberation Sans, Arial, sans-serif" font-size="12.6" textLength="43" lengthAdjust="spacingAndGlyphs" fill="#878c97">3150.00</text><rect x="1613" y="211" width="6" height="1" fill="#1d1e22"/><text x="1623.4" y="215.0" font-family="Liberation Sans, Arial, sans-serif" font-size="12.6" textLength="43" lengthAdjust="spacingAndGlyphs" fill="#878c97">3140.00</text><rect x="1613" y="250" width="6" height="1" fill="#1d1e22"/><text x="1623.4" y="254.0" font-family="Liberation Sans, Arial, sans-serif" font-size="12.6" textLength="43" lengthAdjust="spacingAndGlyphs" fill="#878c97">3130.00</text><rect x="1613" y="289" width="6" height="1" fill="#1d1e22"/><text x="1623.4" y="293.0" font-family="Liberation Sans, Arial, sans-serif" font-size="12.6" textLength="43" lengthAdjust="spacingAndGlyphs" fill="#878c97">3120.00</text><rect x="1613" y="327" width="6" height="1" fill="#1d1e22"/><text x="1623.4" y="331.0" font-family="Liberation Sans, Arial, sans-serif" font-size="12.6" textLength="43" lengthAdjust="spacingAndGlyphs" fill="#878c97">3110.00</text><rect x="1613" y="366" width="6" height="1" fill="#1d1e22"/><text x="1623.4" y="370.0" font-family="Liberation Sans, Arial, sans-serif" font-size="12.6" textLength="43" lengthAdjust="spacingAndGlyphs" fill="#878c97">3100.00</text><rect x="1613" y="405" width="6" height="1" fill="#1d1e22"/><text x="1623.4" y="409.0" font-family="Liberation Sans, Arial, sans-serif" font-size="12.6" textLength="43" lengthAdjust="spacingAndGlyphs" fill="#878c97">3090.00</text><rect x="1613" y="444" width="6" height="1" fill="#1d1e22"/><text x="1623.4" y="448.0" font-family="Liberation Sans, Arial, sans-serif" font-size="12.6" textLength="43" lengthAdjust="spacingAndGlyphs" fill="#878c97">3080.00</text><rect x="1613" y="483" width="6" height="1" fill="#1d1e22"/><text x="1623.4" y="487.0" font-family="Liberation Sans, Arial, sans-serif" font-size="12.6" textLength="43" lengthAdjust="spacingAndGlyphs" fill="#878c97">3070.00</text><rect x="1613" y="521" width="6" height="1" fill="#1d1e22"/><text x="1623.4" y="525.0" font-family="Liberation Sans, Arial, sans-serif" font-size="12.6" textLength="43" lengthAdjust="spacingAndGlyphs" fill="#878c97">3060.00</text><rect x="1613" y="560" width="6" height="1" fill="#1d1e22"/><text x="1623.4" y="564.0" font-family="Liberation Sans, Arial, sans-serif" font-size="12.6" textLength="43" lengthAdjust="spacingAndGlyphs" fill="#878c97">3050.00</text><rect x="1613" y="599" width="6" height="1" fill="#1d1e22"/><text x="1623.4" y="603.0" font-family="Liberation Sans, Arial, sans-serif" font-size="12.6" textLength="43" lengthAdjust="spacingAndGlyphs" fill="#878c97">3040.00</text><rect x="1613" y="91" width="64" height="20" fill="#d54141"/><rect x="1613" y="101" width="6" height="1" fill="#ffffff"/><text x="1623.5" y="105.3" font-family="Liberation Sans, Arial, sans-serif" font-size="12" font-weight="bold" fill="#ffffff">3168.48</text><rect x="1679" y="0" width="3" height="605" fill="#000000"/><rect x="1682" y="0" width="7" height="605" fill="#121316"/><path d="M1677 43 H1681 V81 H1677 Q1675 81 1675 79 V45 Q1675 43 1677 43 Z" fill="#3a3c44"/><path d="M1681 58 L1676.8 62 L1681 66 Z" fill="#8d93a1"/></svg></body></html>
